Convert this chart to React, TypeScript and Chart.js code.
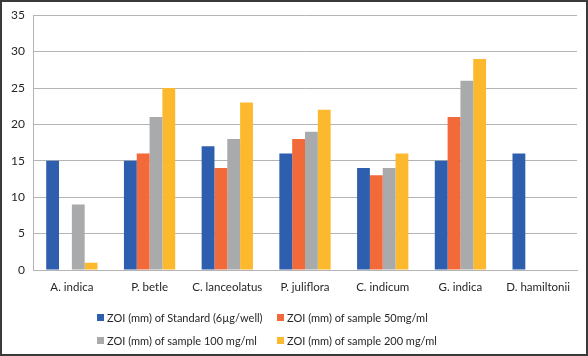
import React, { useEffect, useRef } from "react";
import { Chart, registerables } from "chart.js";

Chart.register(...registerables);

const categories = ["A. indica", "P. betle", "C. lanceolatus", "P. juliflora", "C. indicum", "G. indica", "D. hamiltonii"];
const seriesLabels = [
  "ZOI (mm) of Standard (6µg/well)",
  "ZOI (mm) of sample 50mg/ml",
  "ZOI (mm) of sample 100 mg/ml",
  "ZOI (mm) of sample 200 mg/ml",
];
const standard = [15, 15, 17, 16, 14, 15, 16];
const sample50 = [0, 16, 14, 18, 13, 21, 0];
const sample100 = [9, 21, 18, 19, 14, 26, 0];
const sample200 = [1, 25, 23, 22, 16, 29, 0];
const colors = ["#2e5fae", "#f2693a", "#a8aaac", "#fdb92e"];
const yMin = 0;
const yMax = 35;
const yStep = 5;

const FONT = "Lato, 'Open Sans', sans-serif";

export default function App() {
  const ref = useRef<HTMLCanvasElement | null>(null);

  useEffect(() => {
    document.body.style.margin = "0";
    const ctx = ref.current!;
    const values = [standard, sample50, sample100, sample200];
    const chart = new Chart(ctx, {
      type: "bar",
      data: {
        labels: categories,
        datasets: values.map((v, i) => ({
          label: seriesLabels[i],
          data: v,
          backgroundColor: colors[i],
          borderWidth: 0,
          barPercentage: 1,
          categoryPercentage: 0.66,
        })),
      },
      options: {
        animation: false,
        responsive: false,
        maintainAspectRatio: false,
        layout: { padding: { top: 14, right: 11, bottom: 56, left: 0 } },
        plugins: { legend: { display: false }, tooltip: { enabled: false } },
        scales: {
          x: {
            grid: { display: false, drawTicks: false },
            border: { display: true, color: "#b4b4b4", width: 1 },
            ticks: { color: "#262626", font: { family: FONT, size: 11.5 }, padding: 10, maxRotation: 0, autoSkip: false },
            afterFit: (s: any) => { s.height = 30; },
          },
          y: {
            min: yMin,
            max: yMax,
            ticks: { stepSize: yStep, color: "#262626", font: { family: FONT, size: 12 }, padding: 8 },
            grid: { color: "#b4b4b4", lineWidth: 1, drawTicks: false },
            border: { display: true, color: "#b4b4b4", width: 1 },
            afterFit: (s: any) => { s.width = 33; },
          },
        },
      },
    });
    return () => chart.destroy();
  }, []);

  const legendRows = [[0, 1], [2, 3]];
  const colX = [97, 277];
  const rowY = [309, 332];

  return (
    <div style={{ position: "relative", width: 588, height: 356, background: "#fff", fontFamily: FONT }}>
      <canvas ref={ref} width={588} height={356} style={{ position: "absolute", left: 0, top: 0 }} />
      {legendRows.map((row, ri) =>
        row.map((si, ci) => (
          <div
            key={si}
            style={{
              position: "absolute",
              left: colX[ci],
              top: rowY[ri],
              height: 16,
              display: "flex",
              alignItems: "center",
              fontSize: 11,
              color: "#262626",
              whiteSpace: "nowrap",
            }}
          >
            <span style={{ display: "inline-block", width: 7, height: 7, background: colors[si], marginRight: 3 }} />
            <span>{seriesLabels[si]}</span>
          </div>
        ))
      )}
      <div
        style={{
          position: "absolute",
          left: 0,
          top: 0,
          width: 588,
          height: 356,
          boxSizing: "border-box",
          border: "2px solid #3a3a3a",
          pointerEvents: "none",
        }}
      />
    </div>
  );
}
